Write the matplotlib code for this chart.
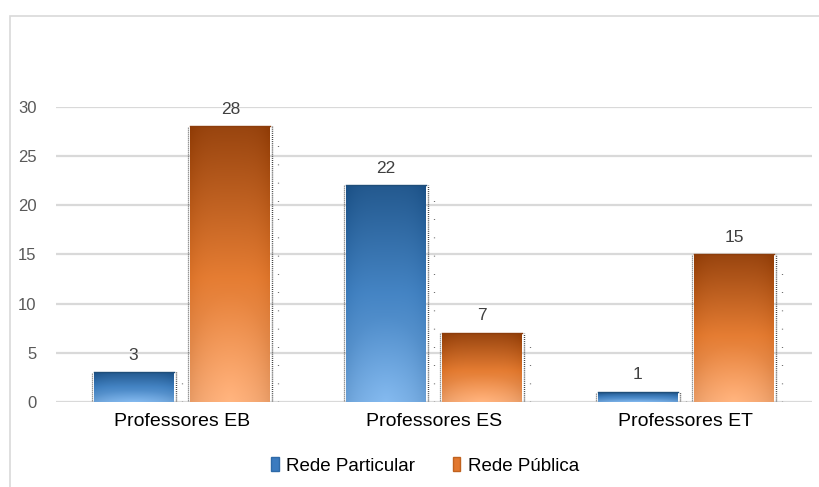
import numpy as np
import matplotlib
matplotlib.use("Agg")
import matplotlib.pyplot as plt
from matplotlib.patches import Rectangle, Patch

categories = ["Professores EB", "Professores ES", "Professores ET"]
series_names = ["Rede Particular", "Rede Pública"]
rede_particular = [3, 22, 1]
rede_publica = [28, 7, 15]
yticks = [0, 5, 10, 15, 20, 25, 30]

plt.rcParams['font.family'] = ['Liberation Sans', 'DejaVu Sans']

W, H = 819, 487
fig = plt.figure(figsize=(W / 100, H / 100), dpi=100)
fig.patch.set_facecolor('white')

# outer chart border
fig.patches.append(Rectangle((10 / W, -0.1), 1.2, (H - 16) / H + 0.1,
                             transform=fig.transFigure, fill=False,
                             edgecolor='#d9d9d9', linewidth=1.2))

ax_left, ax_right = 56 / W, 812 / W
ax_bottom = (H - 402) / H
ax_top = (H - 106.7) / H
ax = fig.add_axes([ax_left, ax_bottom, ax_right - ax_left, ax_top - ax_bottom])
ax.set_facecolor('none')

x = np.arange(len(categories))
width = 0.317
offset = 0.192

blue_stops = [(0.0, (0.45, 0.66, 0.87)), (0.5, (0.27, 0.52, 0.77)), (1.0, (0.14, 0.35, 0.56))]
orange_stops = [(0.0, (0.94, 0.64, 0.43)), (0.45, (0.90, 0.49, 0.20)), (1.0, (0.60, 0.27, 0.06))]


def gradient_img(stops, n=200, m=60):
    t = np.linspace(0, 1, n)[:, None]
    ts = [s[0] for s in stops]
    img = np.zeros((n, m, 3))
    for c in range(3):
        vals = np.interp(t[:, 0], ts, [s[1][c] for s in stops])
        img[:, :, c] = vals[:, None]
    # soft radial highlight near bottom centre, darker sides
    xx = np.linspace(-1, 1, m)[None, :]
    yy = t
    r = np.sqrt(xx ** 2 * 0.8 + (yy * 2.5) ** 2)
    hl = np.clip(1 - r, 0, 1) * 0.07
    side = -0.04 * xx ** 4
    img = np.clip(img + hl[:, :, None] + side[:, :, None], 0, 1)
    img = img[::-1]  # row 0 at top
    return img


def draw_bars(xs, vals, stops, edge):
    rects = ax.bar(xs, vals, width, color='none', edgecolor='none', zorder=3)
    for rect, v in zip(rects, vals):
        x0 = rect.get_x()
        x1 = x0 + rect.get_width()
        im = ax.imshow(gradient_img(stops), extent=[x0, x1, 0, v],
                       aspect='auto', zorder=3, interpolation='bilinear')
        im.set_clip_path(rect)
        # top edge line
        ax.plot([x0, x1], [v, v], color=edge, lw=1.0, zorder=4)
        # dotted "shadow" lines
        dx = 2.0 / 252
        ax.plot([x0 - dx, x0 - dx], [0, v], color='#333333', lw=0.9,
                linestyle=(0, (0.6, 1.0)), zorder=2)
        ax.plot([x1 + dx, x1 + dx], [0, v], color='#222222', lw=1.0,
                linestyle=(0, (0.6, 0.9)), zorder=2)
        ax.plot([x1 + 4 * dx, x1 + 4 * dx], [0, v * 0.97], color='#444444',
                lw=0.9, linestyle=(0, (0.6, 14)), zorder=2)
        ax.annotate(f"{v}", (rect.get_x() + rect.get_width() / 2, v),
                    xytext=(0, 7), textcoords='offset points', ha='center',
                    va='bottom', fontsize=12.5, color='#404040')
    return rects


draw_bars(x - offset, rede_particular, blue_stops, '#1f4e79')
draw_bars(x + offset, rede_publica, orange_stops, '#8c3d0c')

ax.set_xlim(-0.5, 2.5)
ax.set_ylim(0, 30)
ax.set_yticks(yticks)
ax.set_yticklabels([str(t) for t in yticks], fontsize=12, color='#595959')
ax.set_xticks(x)
ax.set_xticklabels(categories, fontsize=14, color='#000000')
ax.tick_params(axis='both', length=0)
ax.tick_params(axis='y', pad=14)
ax.tick_params(axis='x', pad=8)
ax.yaxis.grid(True, color='#d9d9d9', linewidth=1.6)
ax.set_axisbelow(True)
for s in ax.spines.values():
    s.set_visible(False)

handles = [Patch(facecolor='#3b7bbf', edgecolor='#2e6aa8'),
           Patch(facecolor='#e2782f', edgecolor='#c0621f')]
leg = fig.legend(handles, series_names, loc='center', bbox_to_anchor=(0.519, (H - 466) / H),
                 ncol=2, frameon=False, fontsize=13.5, handlelength=0.4,
                 handleheight=0.7, handletextpad=0.4, columnspacing=2.0)

fig.savefig('out.png', dpi=100, facecolor='white')
